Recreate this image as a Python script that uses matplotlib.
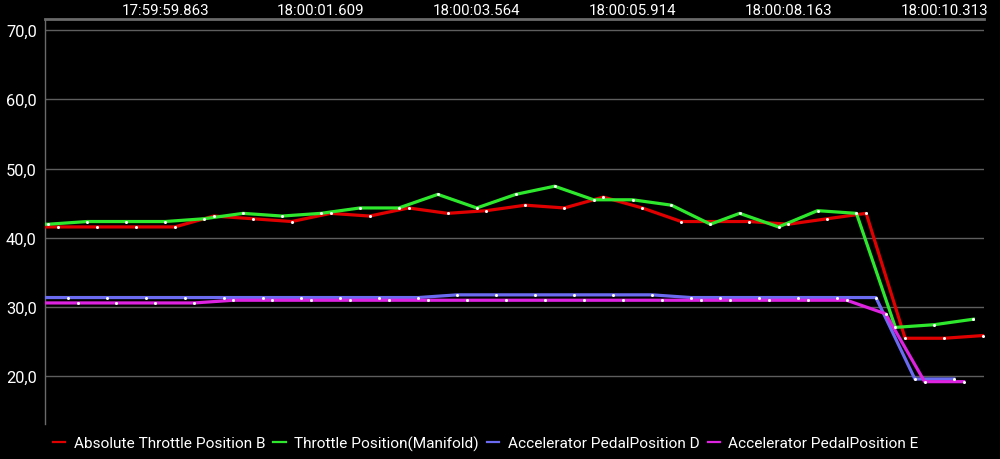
import matplotlib
matplotlib.use("Agg")
import matplotlib.pyplot as plt
from matplotlib.lines import Line2D

plt.rcParams['font.family'] = ['Roboto', 'DejaVu Sans']

# ---- data (global sample index, value) ----
names = ["Absolute Throttle Position B", "Throttle Position(Manifold)",
         "Accelerator PedalPosition D", "Accelerator PedalPosition E"]
colors = ["#e00000", "#2ee82e", "#6b6bf2", "#dd22e0"]

red_x = [-3, 1, 5, 9, 13, 17, 21, 25, 29, 33, 37, 41, 45, 49, 53, 57, 61, 65,
         72, 76, 80, 84, 88, 92, 96]
red_y = [41.57, 41.57, 41.57, 41.57, 41.57, 43.14, 42.75, 42.35, 43.53, 43.14, 44.31,
         43.53, 43.92, 44.71, 44.31, 45.88, 44.31, 42.35,
         42.35, 41.96, 42.75, 43.53, 25.49, 25.49, 25.88]

green_x = [-4, 0, 4, 8, 12, 16, 20, 24, 28, 32, 36, 40, 44, 48, 52, 56, 60, 64, 68,
           71, 75, 79, 83, 87, 91, 95]
green_y = [41.96, 41.96, 42.35, 42.35, 42.35, 42.75, 43.53, 43.14, 43.53, 44.31, 44.31,
           46.27, 44.31, 46.27, 47.45, 45.49, 45.49, 44.71, 41.96,
           43.53, 41.57, 43.92, 43.53, 27.06, 27.45, 28.24]

blue_x = [-2, 2, 6, 10, 14, 18, 22, 26, 30, 34, 38, 42, 46, 50, 54, 58, 62, 66,
          69, 73, 77, 81, 85, 89, 93]
blue_y = [31.37, 31.37, 31.37, 31.37, 31.37, 31.37, 31.37, 31.37, 31.37, 31.37, 31.37,
          31.76, 31.76, 31.76, 31.76, 31.76, 31.76, 31.37,
          31.37, 31.37, 31.37, 31.37, 31.37, 19.61, 19.61]

mag_x = [-1, 3, 7, 11, 15, 19, 23, 27, 31, 35, 39, 43, 47, 51, 55, 59, 63, 67,
         70, 74, 78, 82, 86, 90, 94]
mag_y = [30.59, 30.59, 30.59, 30.59, 30.59, 30.98, 30.98, 30.98, 30.98, 30.98, 30.98,
         30.98, 30.98, 30.98, 30.98, 30.98, 30.98, 30.98,
         30.98, 30.98, 30.98, 30.98, 29.02, 19.22, 19.22]

time_ticks = [12, 28, 44, 60, 76, 92]
time_labels = ["17:59:59.863", "18:00:01.609", "18:00:03.564",
               "18:00:05.914", "18:00:08.163", "18:00:10.313"]
y_ticks = [20, 30, 40, 50, 60, 70]

# ---- figure ----
fig = plt.figure(figsize=(10, 4.6), dpi=100, facecolor="black")
ax = fig.add_axes([0.045, 0.076, 0.939, 0.8805], facecolor="black")

series = [(red_x, red_y), (green_x, green_y), (blue_x, blue_y), (mag_x, mag_y)]
for (xs, ys), c in zip(series, colors):
    ax.plot(xs, ys, color=c, lw=2.3, solid_joinstyle="round", zorder=3)
    ax.plot(xs, ys, 'o', color="white", ms=2.2, mec="none", zorder=4)

ax.set_xlim(-0.34, 96.1)
ax.set_ylim(13.1, 71.6)

ax.set_yticks(y_ticks)
ax.set_yticklabels([f"{v:.1f}".replace(".", ",") for v in y_ticks])
ax.yaxis.grid(True, color="#5e5e5e", lw=1.0)
ax.set_axisbelow(True)

ax.xaxis.tick_top()
ax.set_xticks(time_ticks)
ax.set_xticklabels(time_labels)

ax.tick_params(axis="y", length=0, pad=6, labelsize=11.8, labelcolor="white")
ax.tick_params(axis="x", length=0, pad=1.5, labelsize=10.8, labelcolor="white")

for s in ["bottom", "right"]:
    ax.spines[s].set_visible(False)
ax.spines["top"].set_color("#6a6a6a")
ax.spines["top"].set_linewidth(2.0)
ax.spines["left"].set_color("#6a6a6a")
ax.spines["left"].set_linewidth(1.0)

handles = [Line2D([], [], color=c, lw=1.6) for c in colors]
leg = fig.legend(handles, names, loc="center left", bbox_to_anchor=(0.053, 1 - 444 / 460),
                 ncol=4, frameon=False, fontsize=11.1, labelcolor="white",
                 handlelength=0.78, handletextpad=0.55, columnspacing=0.55,
                 borderpad=0, borderaxespad=0)

fig.savefig("out.png", dpi=100, facecolor="black")
